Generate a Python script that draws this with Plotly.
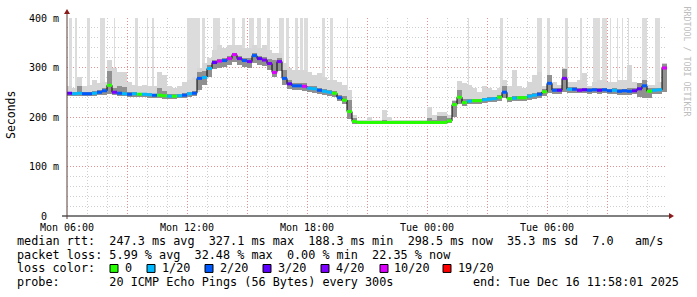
import plotly.graph_objects as go
import pandas as pd

# ---------------- data ----------------
START = "2025-12-15 06:00:00"   # first 15-minute bin (Mon 06:00)
END = "2025-12-16 12:00:00"

median_ms = [
    248, 247, 248, 247, 247, 248, 250, 253, 264, 250,
    248, 247, 246, 247, 246, 246, 245, 244, 244, 243,
    242, 242, 243, 244, 247, 248, 278, 280, 298, 310,
    313, 314, 318, 326, 318, 314, 312, 324, 318, 315,
    308, 290, 312, 278, 267, 263, 263, 262, 258, 257,
    254, 252, 250, 248, 239, 234, 211, 191, 189, 189,
    189, 189, 189, 189, 189, 189, 189, 189, 189, 189,
    189, 189, 189, 189, 189, 189, 192, 225, 240, 229,
    232, 233, 233, 235, 236, 237, 240, 250, 237, 238,
    239, 239, 242, 244, 246, 251, 268, 254, 254, 278,
    256, 256, 254, 255, 254, 255, 254, 255, 253, 254,
    252, 253, 252, 253, 257, 263, 252, 254, 255, 299,
]

loss_of_20 = [
    3, 1, 1, 2, 2, 1, 2, 2, 0, 4,
    2, 1, 2, 1, 0, 1, 1, 2, 0, 0,
    1, 0, 1, 2, 1, 2, 2, 1, 1, 3,
    10, 2, 10, 10, 4, 2, 4, 2, 3, 4,
    4, 10, 4, 2, 3, 2, 2, 10, 1, 1,
    2, 1, 1, 0, 2, 0, 0, 0, 0, 0,
    0, 0, 0, 0, 0, 0, 0, 0, 0, 0,
    0, 0, 0, 0, 0, 0, 0, 0, 0, 0,
    1, 0, 0, 1, 1, 1, 0, 2, 0, 1,
    0, 0, 1, 1, 2, 0, 2, 2, 3, 4,
    1, 2, 4, 3, 2, 2, 3, 2, 2, 1,
    2, 2, 2, 3, 3, 2, 0, 1, 1, 10,
]

smoke_lo = [
    242, 242, 242, 242, 242, 243, 244, 245, 246, 244,
    243, 242, 241, 241, 240, 240, 239, 238, 238, 237,
    237, 237, 238, 239, 241, 242, 255, 265, 280, 296,
    300, 302, 305, 312, 306, 302, 300, 310, 306, 303,
    294, 280, 292, 265, 256, 254, 254, 253, 250, 249,
    246, 244, 242, 240, 232, 226, 195, 186, 185, 185,
    185, 185, 185, 185, 185, 185, 185, 185, 185, 185,
    185, 185, 185, 185, 185, 185, 188, 200, 226, 222,
    226, 227, 227, 229, 230, 231, 233, 238, 231, 232,
    233, 233, 235, 237, 239, 242, 248, 246, 247, 250,
    249, 249, 248, 248, 247, 248, 247, 248, 246, 246,
    245, 245, 244, 246, 240, 238, 238, 246, 247, 250,
]

smoke_hi = [
    262, 258, 281, 262, 265, 275, 268, 270, 315, 300,
    291, 291, 270, 265, 262, 265, 262, 262, 291, 285,
    262, 258, 262, 270, 275, 280, 300, 310, 320, 335,
    345, 340, 345, 345, 345, 340, 340, 345, 340, 345,
    335, 330, 330, 310, 300, 295, 295, 295, 290, 285,
    288, 280, 275, 275, 270, 265, 255, 205, 194, 194,
    201, 194, 194, 215, 200, 194, 194, 194, 194, 194,
    194, 194, 221, 205, 211, 210, 205, 235, 272, 268,
    265, 258, 250, 262, 258, 255, 258, 275, 262, 295,
    262, 258, 270, 285, 290, 262, 285, 270, 265, 300,
    270, 270, 275, 288, 262, 270, 275, 275, 270, 271,
    275, 275, 305, 270, 265, 275, 265, 265, 270, 310,
]

smoke_mid = [
    251, 250, 262, 250, 250, 252, 254, 258, 292, 258,
    262, 260, 250, 250, 249, 249, 248, 247, 258, 252,
    246, 246, 247, 248, 251, 252, 290, 292, 305, 316,
    318, 320, 324, 330, 324, 320, 320, 330, 324, 322,
    318, 316, 320, 295, 275, 268, 268, 268, 263, 262,
    259, 257, 255, 253, 245, 242, 235, 198, 192, 191,
    191, 191, 191, 194, 192, 191, 191, 191, 191, 191,
    191, 191, 198, 194, 203, 203, 198, 232, 255, 236,
    236, 237, 237, 239, 240, 241, 244, 262, 241, 242,
    243, 243, 246, 248, 250, 256, 285, 258, 258, 297,
    260, 260, 258, 259, 258, 259, 258, 259, 257, 258,
    256, 257, 258, 258, 268, 275, 258, 258, 259, 307,
]

# tall outlier spikes (light smoke reaching the top of the graph)
spike_start_min = [6, 24, 60, 99, 141, 204, 240, 255, 360, 405, 438, 495, 525, 546, 570,
                   600, 636, 657, 684, 699, 711, 765, 789, 840, 1203, 1299, 1410, 1440,
                   1494, 1539, 1578, 1605, 1629, 1650, 1665, 1683, 1725, 1764]
spike_len_min = [9, 6, 9, 15, 3, 9, 3, 6, 39, 9, 21, 9, 9, 15, 12,
                 9, 15, 9, 9, 9, 12, 9, 9, 3, 3, 9, 15, 9,
                 9, 6, 21, 15, 3, 3, 3, 3, 15, 15]
spike_base = [250, 250, 250, 252, 260, 250, 248, 247, 250, 285, 310, 325, 315, 318, 320,
              312, 300, 270, 265, 265, 265, 255, 252, 240, 235, 245, 250, 262,
              262, 258, 258, 258, 258, 258, 258, 258, 262, 258]
spike_top = 400

loss_levels = [0, 1, 2, 3, 4, 10, 19]
loss_labels = ["0", "1/20", "2/20", "3/20", "4/20", "10/20", "19/20"]
loss_colors = ["#26ff00", "#00b8ff", "#0059ff", "#5e00ff", "#7e00ff", "#dd00ff", "#ff0000"]

y_tickvals = [0, 100, 200, 300, 400]
y_ticktext = ["0  ", "100 m", "200 m", "300 m", "400 m"]

x_tickvals = ["2025-12-15 06:00", "2025-12-15 09:00", "2025-12-15 12:00", "2025-12-15 15:00",
              "2025-12-15 18:00", "2025-12-15 21:00", "2025-12-16 00:00", "2025-12-16 03:00",
              "2025-12-16 06:00", "2025-12-16 09:00"]
x_ticktext = ["Mon 06:00", "", "Mon 12:00", "", "Mon 18:00", "", "Tue 00:00", "", "Tue 06:00", ""]

legend_rtt = "median rtt:  247.3 ms avg  327.1 ms max  188.3 ms min  298.5 ms now  35.3 ms sd  7.0   am/s"
legend_loss = "packet loss: 5.99 % avg  32.48 % max  0.00 % min  22.35 % now"
legend_probe = "probe:       20 ICMP Echo Pings (56 Bytes) every 300s"
legend_end = "end: Tue Dec 16 11:58:01 2025"

# ---------------- layout helpers ----------------
W, H = 697, 297
L, R, T, B = 67, 30, 16, 81
PW, PH = W - L - R, H - T - B


def px(x):
    return (x - L) / PW


def py(y):
    return (T + PH - y) / PH


def nb(s):
    return s.replace(" ", "\u00a0")


MONO = "DejaVu Sans Mono"

step = pd.Timedelta(minutes=15)
times = pd.date_range(START, periods=len(median_ms), freq="15min")
centers = times + step / 2
width_ms = step.total_seconds() * 1000
t0 = pd.Timestamp(START)

fig = go.Figure()

# tall light spikes
sp_x = [t0 + pd.Timedelta(minutes=s + l / 2) for s, l in zip(spike_start_min, spike_len_min)]
sp_w = [l * 60000 for l in spike_len_min]
fig.add_trace(go.Bar(
    x=sp_x, y=[spike_top - b for b in spike_base], base=spike_base, width=sp_w,
    marker=dict(color="#dcdcdc", line=dict(width=0)),
    hoverinfo="skip", showlegend=False))

# light smoke
fig.add_trace(go.Bar(
    x=centers, y=[h - l for h, l in zip(smoke_hi, smoke_lo)], base=smoke_lo,
    width=width_ms, marker=dict(color="#d6d6d6", line=dict(width=0)),
    hoverinfo="skip", showlegend=False))
# darker smoke
fig.add_trace(go.Bar(
    x=centers, y=[m - l for m, l in zip(smoke_mid, smoke_lo)], base=smoke_lo,
    width=width_ms, marker=dict(color="#909090", line=dict(width=0)),
    hoverinfo="skip", showlegend=False))

# black median connector
fig.add_trace(go.Scatter(
    x=list(times) + [times[-1] + step], y=median_ms + [median_ms[-1]],
    mode="lines", line=dict(color="#000000", width=1, shape="hv"),
    hoverinfo="skip", showlegend=False))


def level_index(v):
    idx = 0
    for k, lv in enumerate(loss_levels):
        if v >= lv:
            idx = k
    return idx


for k, col in enumerate(loss_colors):
    xs, ys = [], []
    for t, m, lo in zip(times, median_ms, loss_of_20):
        if level_index(lo) == k:
            xs += [t, t + step, None]
            ys += [m, m, None]
    if xs:
        fig.add_trace(go.Scatter(x=xs, y=ys, mode="lines",
                                 line=dict(color=col, width=3),
                                 hoverinfo="skip", showlegend=False))

DOT = "1px,2px"
fig.update_layout(
    width=W, height=H,
    margin=dict(l=L, r=R, t=T, b=B, pad=0),
    paper_bgcolor="#ffffff", plot_bgcolor="#ffffff",
    barmode="overlay", bargap=0,
    showlegend=False,
    font=dict(family=MONO, size=10, color="#000000"),
    xaxis=dict(
        type="date", range=[START, END],
        tickmode="array", tickvals=x_tickvals, ticktext=x_ticktext,
        showgrid=True, gridcolor="#e89090", griddash=DOT, gridwidth=1,
        minor=dict(dtick=3600000, tick0=START, showgrid=True,
                   gridcolor="#cfcfcf", griddash=DOT, gridwidth=1),
        ticks="", ticklabelstandoff=4,
        tickfont=dict(family=MONO, size=10, color="#000000"),
        showline=False, zeroline=False, fixedrange=True,
    ),
    yaxis=dict(
        range=[0, 400], tickmode="array", tickvals=y_tickvals,
        ticktext=[nb(t) for t in y_ticktext],
        showgrid=True, gridcolor="#e89090", griddash=DOT, gridwidth=1,
        minor=dict(dtick=20, tick0=0, showgrid=True,
                   gridcolor="#cfcfcf", griddash=DOT, gridwidth=1),
        ticks="", ticklabelstandoff=7,
        tickfont=dict(family=MONO, size=10, color="#000000"),
        showline=False, zeroline=False, fixedrange=True,
    ),
)

shapes = []
# x axis line (with small stub left of y axis) and arrow
shapes.append(dict(type="line", xref="paper", yref="paper",
                   x0=px(62), x1=px(670), y0=py(216), y1=py(216),
                   line=dict(color="#000000", width=1)))
shapes.append(dict(type="path", xref="paper", yref="paper",
                   path=f"M {px(669)} {py(213)} L {px(674)} {py(216)} L {px(669)} {py(219)} Z",
                   fillcolor="#8b1a1a", line=dict(color="#8b1a1a", width=0)))
# y axis line and arrow
shapes.append(dict(type="line", xref="paper", yref="paper",
                   x0=px(67), x1=px(67), y0=py(219), y1=py(12),
                   line=dict(color="#5a3a3a", width=1)))
shapes.append(dict(type="path", xref="paper", yref="paper",
                   path=f"M {px(64)} {py(12)} L {px(67)} {py(7)} L {px(70)} {py(12)} Z",
                   fillcolor="#8b1a1a", line=dict(color="#8b1a1a", width=0)))

# loss colour boxes
box_x = [110, 147, 205, 263, 321, 380, 443]
text_x = [123, 160, 218, 276, 334, 392, 456]
for bx, col in zip(box_x, loss_colors):
    shapes.append(dict(type="rect", xref="paper", yref="paper",
                       x0=px(bx), x1=px(bx + 8), y0=py(273), y1=py(265),
                       fillcolor=col, line=dict(color="#000000", width=1)))
fig.update_layout(shapes=shapes)

ann = []
LEG = 11.8


def add_text(x, y, s, size=LEG, anchor="left", color="#000000", angle=0):
    ann.append(dict(x=px(x), y=py(y), xref="paper", yref="paper", text=nb(s),
                    showarrow=False, xanchor=anchor, yanchor="middle",
                    textangle=angle,
                    font=dict(family=MONO, size=size, color=color)))


add_text(15, 241, legend_rtt)
add_text(15, 255, legend_loss)
add_text(15, 269, "loss color:")
for tx, lab in zip(text_x, loss_labels):
    add_text(tx, 269, lab)
add_text(15, 283, legend_probe)
add_text(681, 283, legend_end, anchor="right")

# y-axis title
ann.append(dict(x=px(11), y=py(114), xref="paper", yref="paper", text="Seconds",
                showarrow=False, xanchor="center", yanchor="middle", textangle=-90,
                font=dict(family=MONO, size=11.5, color="#000000")))
# watermark
ann.append(dict(x=px(687), y=py(60), xref="paper", yref="paper",
                text=nb("RRDTOOL / TOBI OETIKER"),
                showarrow=False, xanchor="center", yanchor="middle", textangle=90,
                font=dict(family=MONO, size=8.3, color="#bdbdbd")))
fig.update_layout(annotations=ann)

fig.write_html("out.html")
